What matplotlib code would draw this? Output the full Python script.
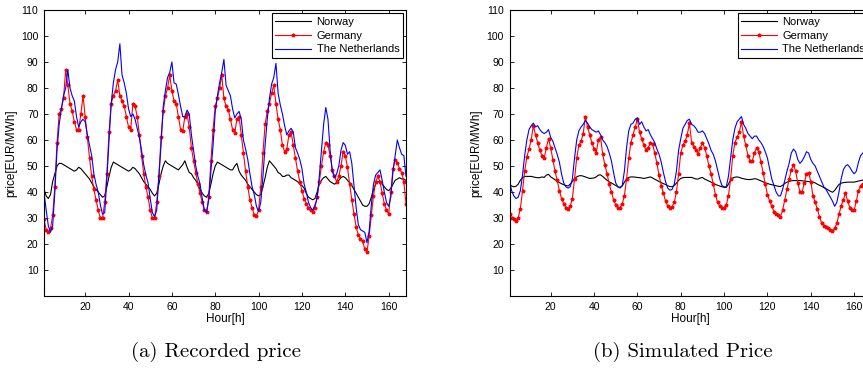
import matplotlib
matplotlib.use("Agg")
import matplotlib.pyplot as plt
import numpy as np

plt.rcParams['font.family'] = ['Liberation Sans', 'DejaVu Sans']

hours = np.arange(1, 169)

# (a) recorded price
norway_rec = [41, 38.5, 37.5, 39, 44, 47, 50, 51, 51, 50.5,
              50, 49.5, 49, 48.5, 48, 48.5, 49.5, 49, 48, 47,
              46, 45, 43.5, 42, 41, 40, 39, 38, 38.5, 42,
              46, 49.5, 51.5, 51, 50.5, 50, 49.5, 49, 48.5, 48,
              48.5, 49.5, 49, 48, 47, 45.5, 44, 43, 42, 41,
              39.5, 38.5, 39.5, 43, 47, 50, 52, 51, 50.5, 50,
              49.5, 49, 48.5, 49.5, 50.5, 52, 49.5, 47.5, 47, 45.5,
              44.5, 43, 41, 39.5, 38.5, 38, 39.5, 43, 47, 50,
              51.5, 51, 50.5, 50, 49.5, 49, 48.5, 48.5, 50, 51,
              48, 46.5, 45.5, 44.5, 43, 42, 41, 40, 39, 38.5,
              39, 42, 45.5, 49.5, 52, 51, 50, 49, 47.5, 47,
              46, 46, 46.5, 46.5, 45.5, 45, 44.5, 44, 43, 42.5,
              41.5, 39.5, 38, 37.5, 37, 37.5, 40, 43, 44.5, 45.5,
              46, 45, 44, 43.5, 43, 43.5, 44.5, 45.5, 46, 45.5,
              44.5, 43.5, 42.5, 41, 39.5, 38, 36.5, 35, 34.5, 34.5,
              35.5, 38, 41, 43, 44, 44, 43, 42, 41, 40.5,
              41.5, 43, 44.5, 45, 45.5, 45, 45, 44.5]

germany_rec = [29.5, 25.5, 24.5, 26, 31, 42, 59, 70, 72, 76,
               87, 81, 74, 71, 67, 64, 64, 70, 77, 69,
               61, 53, 46, 41, 37, 33, 30, 30, 36, 47,
               63, 74, 77, 79, 83, 77, 75, 73, 69, 65,
               64, 74, 73, 69, 62, 54, 47, 42, 38, 33,
               30, 30, 36, 46, 61, 71, 77, 80, 85, 79,
               75, 74, 69, 64, 63.5, 69, 70, 65, 57, 52,
               47.5, 43, 39.5, 36, 33, 32.4, 38, 52, 64, 73,
               76, 80, 85, 76, 73, 71.5, 68, 64, 62.8, 68,
               69, 62, 55, 48, 42, 37, 34, 31, 30.8, 33,
               42, 55, 66, 71, 74, 78, 81, 74, 68, 64,
               58, 55.5, 56.5, 62, 63, 58, 53, 48, 44, 40.5,
               37.5, 35.5, 34, 33, 32.4, 34, 38, 44, 50, 55.5,
               59, 58, 54, 48.5, 46, 44, 46, 50, 55.5, 54,
               49.5, 43, 37, 31.5, 26.5, 23.5, 22, 21, 18, 17,
               23, 31, 38.5, 44, 46, 44, 39.5, 35.5, 33, 31.5,
               40, 49, 52.5, 51, 49, 47.5, 44, 35.5]

nl_rec = [40, 33, 27, 24.5, 27, 40, 56, 66, 72, 77,
          80, 87, 80, 77, 75, 69, 65, 67, 68, 67,
          62, 58, 54, 47, 43, 40, 35, 31.5, 32, 45,
          60, 74, 82, 87, 90, 97, 85, 82, 78, 72,
          69, 70, 68, 64.5, 61, 56, 50.5, 46.5, 43.5, 37.5,
          32, 30.5, 33, 46, 58, 73, 79, 84, 86, 90,
          82, 81.5, 77.5, 73, 69, 69, 71.5, 70, 62, 56,
          50, 46, 43, 37.5, 33, 32, 37, 48, 58, 71,
          77, 82, 86, 91, 81, 79, 77, 72, 68.5, 70,
          71, 68, 60, 56.5, 52.5, 47, 42, 39, 34.5, 32.5,
          36, 46, 58, 68, 76, 81.5, 84, 89.5, 78, 73.5,
          70, 65.5, 62, 63.5, 64.5, 63, 57, 55, 52.5, 49,
          43, 40, 36, 34, 33, 35, 37.5, 46, 56, 66,
          72.5, 68, 56, 48, 45.5, 47, 50, 56, 59, 58,
          54.5, 55.5, 51, 42.5, 34, 27.5, 25.5, 25, 24.5, 20.5,
          25, 35, 43, 46.5, 47.5, 48.5, 44.5, 40, 36, 34.5,
          38, 48, 54, 60, 57, 54.5, 54, 46]

# (b) simulated price
norway_sim = [43, 42.3, 42, 42.2, 43, 44.5, 45.5, 46, 46, 46,
              46, 45.8, 45.6, 45.5, 45.5, 45.8, 45.6, 46.5, 46.8, 45.8,
              45.3, 44.7, 44.2, 43.6, 43.2, 42.8, 42.5, 42.3, 43, 44,
              45.2, 45.8, 46.2, 46.3, 46.1, 45.8, 45.5, 45.2, 45.3, 45.4,
              45.8, 46.5, 46.6, 46, 45.2, 44.5, 43.9, 43.5, 43, 42.5,
              42, 41.8, 42.3, 43.8, 45, 45.6, 45.8, 45.8, 45.7, 45.6,
              45.5, 45.4, 45.2, 45.4, 45.6, 45.8, 45.4, 44.9, 44.5, 44,
              43.6, 43.2, 42.9, 42.4, 42.1, 42, 42.5, 43.4, 44.5, 45.2,
              45.5, 45.6, 45.6, 45.6, 45.6, 45.3, 45, 45, 45.4, 45.6,
              45, 44.6, 44.2, 43.8, 43.3, 42.9, 42.6, 42.3, 42, 41.8,
              41.8, 43, 44.7, 45.4, 45.7, 45.8, 45.6, 45.3, 45.1, 44.9,
              44.8, 44.8, 44.9, 45.1, 45, 44.6, 44.3, 43.9, 43.5, 43.3,
              43, 42.8, 42.6, 42.4, 42.2, 42.1, 42.6, 43.3, 43.8, 44.1,
              44.3, 44.4, 44.4, 44.4, 44.4, 44.3, 44.2, 44.1, 44, 43.9,
              43.8, 43.5, 43, 42.6, 42.2, 41.7, 41.3, 40.8, 40.3, 39.9,
              40.6, 41.8, 42.9, 43.4, 43.6, 43.7, 43.8, 43.8, 43.8, 43.8,
              44, 44.2, 44.4, 44.6, 44.7, 44.8, 44.8, 44.8]

germany_sim = [31.5, 30, 29.5, 29, 30, 33.5, 40.5, 48, 53.5, 56.5,
               60, 65.5, 62, 59, 56, 54, 53, 57, 60.5, 57,
               52.5, 48, 44.5, 40.5, 37.5, 35.5, 34, 33.5, 34.5, 37.5,
               45, 53, 58, 59.5, 62.5, 69, 65, 62, 59, 56.5,
               55, 60, 61, 54.5, 50.5, 47, 43, 40, 37, 35,
               33.8, 34, 35.5, 38.5, 45, 53, 59, 62, 65, 68,
               63, 60.5, 58, 56, 57, 59, 58.5, 55, 51, 46.5,
               42.5, 39.5, 36.5, 34.5, 33.8, 34.3, 36, 40, 47, 55,
               58, 59.5, 62, 66.5, 59, 57.5, 56, 54.5, 57, 59,
               57, 54, 50, 47, 43, 39, 36, 34.5, 33.8, 34,
               35, 38.5, 45, 54, 59, 61, 63, 67, 61.5, 58,
               54, 52, 52, 55, 57, 55.5, 51.5, 47.5, 43, 39,
               36.5, 34.5, 32.5, 31.5, 31, 30.5, 33, 37, 41, 45,
               48.5, 50.5, 48, 43.5, 40, 40, 43.5, 47, 47.5, 44,
               38.5, 36, 33.5, 30.5, 28, 27, 26.5, 26, 25.5, 25,
               26, 28, 31.5, 34.5, 37, 39.5, 36.5, 34, 33, 33,
               36.5, 40.5, 42.5, 43, 43, 42, 40, 38]

nl_sim = [44, 40.5, 38.5, 37.5, 38, 40.5, 46.5, 54, 60, 64,
          65.5, 66.5, 65, 65.5, 64, 63, 62.5, 63, 64, 61,
          59.5, 57, 54.5, 51.5, 47, 43.5, 42, 41.5, 42, 45,
          53, 60, 63.5, 65, 66, 67.5, 66.5, 65, 64, 63.5,
          63, 63.5, 62, 60, 59, 57.5, 55, 52, 47.5, 43.5,
          42, 41.5, 42.5, 48, 57, 63.5, 66, 66.5, 68, 68.5,
          66, 67, 65, 63.5, 64, 62, 60.5, 59, 56.5, 54.5,
          51.5, 47.5, 44, 41.5, 40.7, 41, 43, 48, 56, 60.5,
          64.5, 66, 67.5, 68, 66, 65.5, 64.5, 63, 63, 63.5,
          62.5, 60.5, 58.5, 56, 54.5, 52, 48.5, 45, 42.5, 42,
          42, 46, 53, 60, 64.5, 67, 68, 69, 66, 64.5,
          62.5, 61.5, 60.5, 61.5, 61.5, 60, 59, 57.5, 55.5, 53,
          49, 45, 42.5, 40, 38.5, 38.5, 41, 44.5, 48, 51,
          55, 56.5, 55.5, 52.5, 51, 52, 53.5, 55.5, 55, 52.5,
          51, 50, 48, 46, 44, 42, 41, 39.5, 38, 36.5,
          34.5, 36, 40, 45, 48.5, 50, 50.5, 49.5, 48, 47,
          48, 51.5, 54, 55, 55.5, 55.5, 55, 54.5]

labels = ['Norway', 'Germany', 'The Netherlands']
captions = ['(a) Recorded price', '(b) Simulated Price']

fig = plt.figure(figsize=(8.63, 3.68), dpi=100)
ax1 = fig.add_axes([44 / 863, 1 - 296 / 368, 362 / 863, 286 / 368])
# the right panel runs past the edge of the image, as in the original
ax2 = fig.add_axes([509.5 / 863, 1 - 296 / 368, 362 / 863, 286 / 368])

panels = [(ax1, norway_rec, germany_rec, nl_rec),
          (ax2, norway_sim, germany_sim, nl_sim)]

for ax, nw, de, nl in panels:
    ax.plot(hours, nw, color='black', lw=0.8, label=labels[0])
    ax.plot(hours, de, color='red', lw=0.8, marker='*', markersize=2.6, label=labels[1])
    ax.plot(hours, nl, color='blue', lw=0.8, label=labels[2])
    ax.set_xlim(1, 168)
    ax.set_ylim(0, 110)
    ax.set_xticks(range(20, 161, 20))
    ax.set_yticks(range(10, 111, 10))
    ax.tick_params(direction='in', top=True, right=True, length=3, width=0.6, labelsize=7.5, pad=4)
    for s in ax.spines.values():
        s.set_linewidth(0.8)
    ax.set_xlabel('Hour[h]', fontsize=8.5, labelpad=1)
    ax.set_ylabel('price[EUR/MWh]', fontsize=8.5, labelpad=3)
    leg = ax.legend(loc='upper right', fontsize=8, fancybox=False, edgecolor='black',
                    framealpha=1, handlelength=3.2, labelspacing=0.35, borderaxespad=0.3,
                    borderpad=0.3, handletextpad=0.5)
    leg.get_frame().set_linewidth(0.8)

fig.text(216 / 863, 1 - 352 / 368, captions[0], ha='center', va='center', family='cmr10', fontsize=15)
fig.text(683 / 863, 1 - 352 / 368, captions[1], ha='center', va='center', family='cmr10', fontsize=15)

fig.savefig('out.png', dpi=100)
